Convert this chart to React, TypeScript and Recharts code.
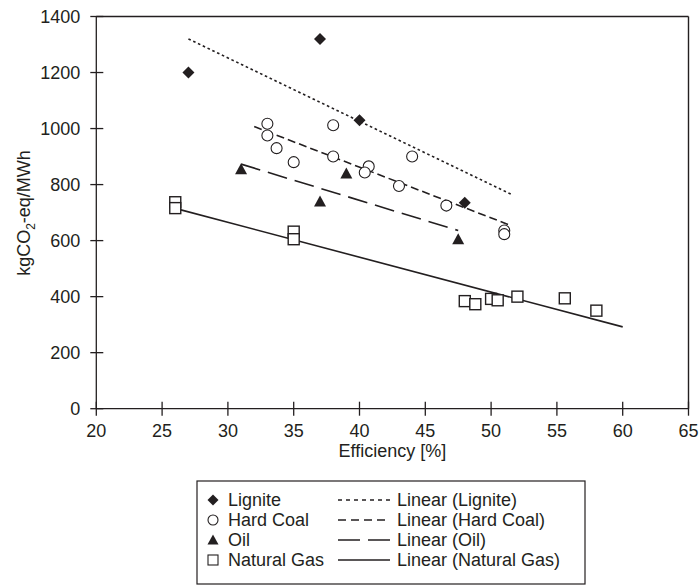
import React from 'react';
import {
  ComposedChart,
  Scatter,
  Line,
  XAxis,
  YAxis,
  ReferenceLine,
} from 'recharts';

const ligniteData = [
  { x: 27, y: 1200 },
  { x: 37, y: 1320 },
  { x: 40, y: 1030 },
  { x: 48, y: 735 },
];

const hardCoalData = [
  { x: 33, y: 1017 },
  { x: 33, y: 975 },
  { x: 33.7, y: 930 },
  { x: 35, y: 880 },
  { x: 38, y: 1012 },
  { x: 38, y: 900 },
  { x: 40.7, y: 865 },
  { x: 40.4, y: 843 },
  { x: 43, y: 795 },
  { x: 44, y: 900 },
  { x: 46.6, y: 725 },
  { x: 51, y: 636 },
  { x: 51, y: 623 },
];

const oilData = [
  { x: 31, y: 855 },
  { x: 37, y: 740 },
  { x: 39, y: 840 },
  { x: 47.5, y: 605 },
];

const gasData = [
  { x: 26, y: 737 },
  { x: 26, y: 716 },
  { x: 35, y: 632 },
  { x: 35, y: 605 },
  { x: 48, y: 384 },
  { x: 48.8, y: 373 },
  { x: 50, y: 392 },
  { x: 50.5, y: 387 },
  { x: 52, y: 400 },
  { x: 55.6, y: 394 },
  { x: 58, y: 350 },
];

const ligniteTrend = [
  { x: 27, y: 1320 },
  { x: 51.5, y: 766 },
];
const hardCoalTrend = [
  { x: 32, y: 1007 },
  { x: 51.5, y: 654 },
];
const oilTrend = [
  { x: 31, y: 873 },
  { x: 47.5, y: 636 },
];
const gasTrend = [
  { x: 26, y: 715 },
  { x: 60, y: 292 },
];

const xTicks = [20, 25, 30, 35, 40, 45, 50, 55, 60, 65];
const yTicks = [0, 200, 400, 600, 800, 1000, 1200, 1400];

const FONT = '"Liberation Sans", Arial, sans-serif';
const INK = '#231f20';
const FS = 18;

const X_TICK_SIZE = 7;
const X_TICK_MARGIN = 9;
const Y_TICK_SIZE = 8;
const Y_TICK_MARGIN = 8;

const XTick = (props: any) => {
  const { x, y, payload } = props;
  const axisY = y - X_TICK_SIZE - X_TICK_MARGIN;
  return (
    <g>
      <line x1={x} x2={x} y1={axisY - 7} y2={axisY + 7} stroke={INK} strokeWidth={1.3} />
      <text x={x} y={y} dy="0.71em" textAnchor="middle" fontFamily={FONT} fontSize={FS} fill={INK}>
        {payload.value}
      </text>
    </g>
  );
};

const YTick = (props: any) => {
  const { x, y, payload } = props;
  const axisX = x + Y_TICK_SIZE + Y_TICK_MARGIN;
  return (
    <g>
      <line x1={axisX - 6} x2={axisX + 7} y1={y} y2={y} stroke={INK} strokeWidth={1.3} />
      <text x={x} y={y} dy="0.355em" textAnchor="end" fontFamily={FONT} fontSize={FS} fill={INK}>
        {payload.value}
      </text>
    </g>
  );
};

const Diamond = (props: any) => {
  const { cx, cy } = props;
  if (cx == null || cy == null) return null;
  const r = 6;
  return (
    <path
      d={`M${cx},${cy - r}L${cx + r},${cy}L${cx},${cy + r}L${cx - r},${cy}Z`}
      fill={INK}
    />
  );
};

const Circle = (props: any) => {
  const { cx, cy } = props;
  if (cx == null || cy == null) return null;
  return <circle cx={cx} cy={cy} r={5.5} fill="#fff" stroke={INK} strokeWidth={1.1} />;
};

const Triangle = (props: any) => {
  const { cx, cy } = props;
  if (cx == null || cy == null) return null;
  const h = 6;
  return (
    <path
      d={`M${cx},${cy - h}L${cx + 6},${cy + h - 1}L${cx - 6},${cy + h - 1}Z`}
      fill={INK}
    />
  );
};

const Square = (props: any) => {
  const { cx, cy } = props;
  if (cx == null || cy == null) return null;
  const s = 5.5;
  return (
    <rect
      x={cx - s}
      y={cy - s}
      width={2 * s}
      height={2 * s}
      fill="#fff"
      stroke={INK}
      strokeWidth={1.4}
    />
  );
};

const YLabel = () => (
  <text
    x={0}
    y={0}
    transform="translate(30,213) rotate(-90)"
    textAnchor="middle"
    fontFamily={FONT}
    fontSize={FS}
    fill={INK}
  >
    kgCO
    <tspan fontSize={12} dy={5}>
      2
    </tspan>
    <tspan dy={-5}>-eq/MWh</tspan>
  </text>
);

const legendRows = [
  { marker: 'diamond', label: 'Lignite', dash: '4 4', line: 'Linear (Lignite)' },
  { marker: 'circle', label: 'Hard Coal', dash: '8 5', line: 'Linear (Hard Coal)' },
  { marker: 'triangle', label: 'Oil', dash: '22 8', line: 'Linear (Oil)' },
  { marker: 'square', label: 'Natural Gas', dash: undefined, line: 'Linear (Natural Gas)' },
];

const LegendBox = () => {
  const left = 197;
  const top = 481;
  const w = 388;
  const h = 103;
  const rowY = [500, 520, 540, 560];
  return (
    <g fontFamily={FONT} fontSize={FS} fill={INK}>
      <rect x={left} y={top} width={w} height={h} fill="#fff" stroke={INK} strokeWidth={1.2} />
      {legendRows.map((r, i) => {
        const y = rowY[i];
        const mx = 213;
        let m: React.ReactNode = null;
        if (r.marker === 'diamond')
          m = <path d={`M${mx},${y - 5.5}L${mx + 5.5},${y}L${mx},${y + 5.5}L${mx - 5.5},${y}Z`} fill={INK} />;
        if (r.marker === 'circle')
          m = <circle cx={mx} cy={y} r={5} fill="#fff" stroke={INK} strokeWidth={1.1} />;
        if (r.marker === 'triangle')
          m = <path d={`M${mx},${y - 5.5}L${mx + 5.5},${y + 4.5}L${mx - 5.5},${y + 4.5}Z`} fill={INK} />;
        if (r.marker === 'square')
          m = <rect x={mx - 5} y={y - 5} width={10} height={10} fill="#fff" stroke={INK} strokeWidth={1.1} />;
        return (
          <g key={r.label}>
            {m}
            <text x={228} y={y} dy="0.355em">
              {r.label}
            </text>
            <line
              x1={338}
              x2={390}
              y1={y}
              y2={y}
              stroke={INK}
              strokeWidth={1.6}
              strokeDasharray={r.dash}
            />
            <text x={397} y={y} dy="0.355em">
              {r.line}
            </text>
          </g>
        );
      })}
    </g>
  );
};

export default function App() {
  return (
    <div style={{ position: 'absolute', left: 0, top: 0, width: 700, height: 587, background: '#fff' }}>
      <ComposedChart
        width={700}
        height={587}
        margin={{ top: 16.5, right: 11.5, left: 0, bottom: 0 }}
        style={{ fontFamily: FONT }}
      >
        <XAxis
          type="number"
          dataKey="x"
          domain={[20, 65]}
          ticks={xTicks}
          interval={0}
          allowDataOverflow
          stroke={INK}
          strokeWidth={1.3}
          tickLine={false}
          tickSize={X_TICK_SIZE}
          tickMargin={X_TICK_MARGIN}
          height={178.3}
          tick={<XTick />}
          label={{ value: 'Efficiency [%]', position: 'insideTop', offset: 36, fill: INK, fontSize: FS, fontFamily: FONT }}
        />
        <YAxis
          type="number"
          dataKey="y"
          domain={[0, 1400]}
          ticks={yTicks}
          interval={0}
          allowDataOverflow
          stroke={INK}
          strokeWidth={1.3}
          tickLine={false}
          tickSize={Y_TICK_SIZE}
          tickMargin={Y_TICK_MARGIN}
          width={96.3}
          tick={<YTick />}
          label={<YLabel />}
        />
        <ReferenceLine y={1400} stroke={INK} strokeWidth={1.4} ifOverflow="extendDomain" />
        <ReferenceLine x={65} stroke={INK} strokeWidth={1.4} ifOverflow="extendDomain" />
        <Line data={ligniteTrend} dataKey="y" type="linear" stroke={INK} strokeWidth={1.6} strokeDasharray="2.6 2.7" dot={false} isAnimationActive={false} />
        <Line data={hardCoalTrend} dataKey="y" type="linear" stroke={INK} strokeWidth={1.6} strokeDasharray="8 4" dot={false} isAnimationActive={false} />
        <Line data={oilTrend} dataKey="y" type="linear" stroke={INK} strokeWidth={1.6} strokeDasharray="20 8" dot={false} isAnimationActive={false} />
        <Line data={gasTrend} dataKey="y" type="linear" stroke={INK} strokeWidth={1.6} dot={false} isAnimationActive={false} />
        <Scatter data={ligniteData} shape={<Diamond />} isAnimationActive={false} />
        <Scatter data={hardCoalData} shape={<Circle />} isAnimationActive={false} />
        <Scatter data={oilData} shape={<Triangle />} isAnimationActive={false} />
        <Scatter data={gasData} shape={<Square />} isAnimationActive={false} />
        <LegendBox />
      </ComposedChart>
    </div>
  );
}
